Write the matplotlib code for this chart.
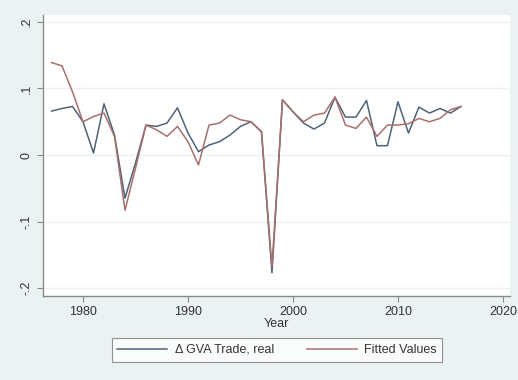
import matplotlib
matplotlib.use("Agg")
import matplotlib.pyplot as plt
from matplotlib.ticker import FixedLocator

plt.rcParams['font.family'] = ['Liberation Sans', 'DejaVu Sans']

years = list(range(1977, 2017))
actual = [0.066, 0.070, 0.073, 0.050, 0.003, 0.077, 0.030, -0.065, -0.012, 0.045,
          0.043, 0.048, 0.071, 0.033, 0.005, 0.015, 0.020, 0.030, 0.043, 0.050,
          0.035, -0.177, 0.083, 0.065, 0.048, 0.039, 0.048, 0.087, 0.057, 0.057,
          0.082, 0.014, 0.014, 0.080, 0.033, 0.072, 0.063, 0.070, 0.063, 0.073]
fitted = [0.139, 0.134, 0.095, 0.050, 0.058, 0.063, 0.028, -0.083, -0.020, 0.045,
          0.038, 0.028, 0.043, 0.020, -0.015, 0.045, 0.048, 0.060, 0.053, 0.050,
          0.035, -0.168, 0.083, 0.065, 0.050, 0.060, 0.063, 0.087, 0.045, 0.040,
          0.057, 0.028, 0.045, 0.045, 0.047, 0.055, 0.050, 0.055, 0.068, 0.073]
xticks = [1980, 1990, 2000, 2010, 2020]
yticks = [-0.2, -0.1, 0.0, 0.1, 0.2]
ytick_labels = ['-.2', '-.1', '0', '.1', '.2']

W, H = 518, 380
fig = plt.figure(figsize=(W / 100, H / 100), dpi=100)
fig.patch.set_facecolor('#eaf2f3')
ax = fig.add_axes([43 / W, 1 - 296 / H, (510 - 43) / W, (296 - 15) / H])
ax.set_facecolor('white')

c_act = '#4e6378'
c_fit = '#a8706c'
l1, = ax.plot(years, actual, color=c_act, lw=1.1, label='Δ GVA Trade, real')
l2, = ax.plot(years, fitted, color=c_fit, lw=1.1, label='Fitted Values')

ax.set_xlim(1976.19, 2020.67)
ax.set_ylim(-0.212, 0.2105)
ax.xaxis.set_major_locator(FixedLocator(xticks))
ax.set_yticks(yticks)
ax.set_yticklabels(ytick_labels, rotation=90, va='center')
ax.grid(axis='y', color='#eaf2f3', lw=1.0)
ax.set_axisbelow(True)
for s in ['top', 'right']:
    ax.spines[s].set_visible(False)
for s in ['left', 'bottom']:
    ax.spines[s].set_color('#8a8a8a')
    ax.spines[s].set_linewidth(1.0)
ax.tick_params(axis='both', colors='#8a8a8a', labelcolor='#333333', labelsize=9,
               length=4, width=0.8)
ax.set_xlabel('Year', fontsize=9, color='#333333', labelpad=0)

leg = fig.legend(handles=[l1, l2], loc='center', bbox_to_anchor=(277 / W, 1 - 350 / H),
                 ncol=2, frameon=True, fancybox=False, fontsize=9, handlelength=4.0,
                 columnspacing=2.6, borderpad=0.45, handletextpad=0.6)
leg.get_frame().set_edgecolor('#777777')
leg.get_frame().set_linewidth(0.8)
for t in leg.get_texts():
    t.set_color('#333333')

fig.savefig('out.png', dpi=100, facecolor=fig.get_facecolor())
